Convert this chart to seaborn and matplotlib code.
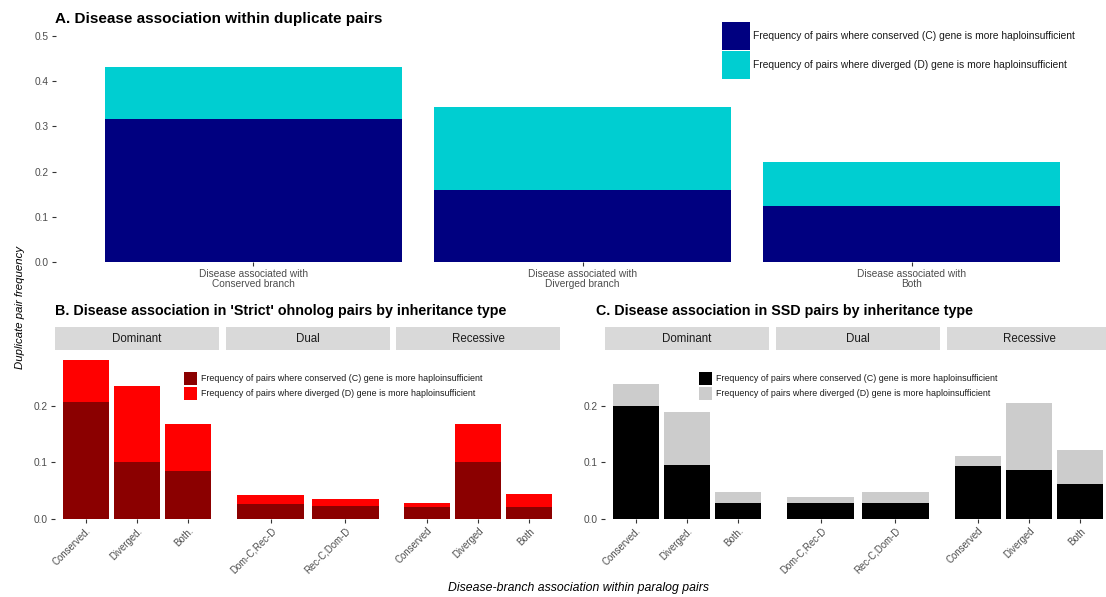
import matplotlib
matplotlib.use("Agg")
import matplotlib.pyplot as plt
from matplotlib.patches import Rectangle
import seaborn as sns
import pandas as pd

sns.set_theme(style="white")
plt.rcParams['font.family'] = ['Liberation Sans', 'DejaVu Sans']

# ---------------- data ----------------
A_categories = ["Disease associated with\nConserved branch",
                "Disease associated with\nDiverged branch",
                "Disease associated with\nBoth"]
A_conserved_HI = [0.316, 0.159, 0.124]
A_diverged_HI = [0.115, 0.184, 0.097]

facets = ["Dominant", "Dual", "Recessive"]
facet_categories = {
    "Dominant": ["Conserved.", "Diverged.", "Both."],
    "Dual": ["Dom-C,Rec-D", "Rec-C,Dom-D"],
    "Recessive": ["Conserved", "Diverged", "Both"],
}
B_conserved_HI = {"Dominant": [0.206, 0.100, 0.085],
                  "Dual": [0.027, 0.023],
                  "Recessive": [0.021, 0.101, 0.021]}
B_diverged_HI = {"Dominant": [0.075, 0.134, 0.082],
                 "Dual": [0.016, 0.013],
                 "Recessive": [0.007, 0.066, 0.023]}
C_conserved_HI = {"Dominant": [0.200, 0.096, 0.029],
                  "Dual": [0.029, 0.029],
                  "Recessive": [0.093, 0.087, 0.062]}
C_diverged_HI = {"Dominant": [0.038, 0.093, 0.019],
                 "Dual": [0.010, 0.019],
                 "Recessive": [0.019, 0.118, 0.059]}

legend_labels = ["Frequency of pairs where conserved (C) gene is more haploinsufficient",
                 "Frequency of pairs where diverged (D) gene is more haploinsufficient"]

# ---------------- layout helpers ----------------
W, H = 1106, 597
fig = plt.figure(figsize=(W / 100, H / 100), dpi=100)
fig.patch.set_facecolor("white")

def add_ax(left, top, right, bottom):
    return fig.add_axes([left / W, 1 - bottom / H, (right - left) / W, (bottom - top) / H])

TICK_COL = "#4D4D4D"

def style_ax(ax, show_y=True):
    for s in ax.spines.values():
        s.set_visible(False)
    ax.set_facecolor("white")
    ax.tick_params(axis="both", which="both", length=3, width=0.8, color="#333333",
                   labelcolor=TICK_COL, labelsize=7.3, pad=2,
                   bottom=True, left=show_y, labelleft=show_y)
    ax.set_xlabel("")
    ax.set_ylabel("")
    ax.grid(False)

def stacked(ax, cats, cons, div, c_dark, c_light):
    total = [a + b for a, b in zip(cons, div)]
    df = pd.DataFrame({"cat": cats, "total": total, "cons": cons})
    sns.barplot(data=df, x="cat", y="total", color=c_light, width=0.9,
                saturation=1, edgecolor="none", linewidth=0, ax=ax, order=cats)
    sns.barplot(data=df, x="cat", y="cons", color=c_dark, width=0.9,
                saturation=1, edgecolor="none", linewidth=0, ax=ax, order=cats)
    ax.set_xlim(-0.6, len(cats) - 0.4)

def draw_legend(x, y, key_w, key_h, pitch, colors, fontsize, text_gap):
    for i, (c, lab) in enumerate(zip(colors, legend_labels)):
        top = y + i * pitch
        fig.patches.append(Rectangle((x / W, 1 - (top + key_h) / H), key_w / W, key_h / H,
                                     transform=fig.transFigure, facecolor=c,
                                     edgecolor="none"))
        fig.text((x + key_w + text_gap) / W, 1 - (top + key_h / 2) / H, lab,
                 fontsize=fontsize, color="#1A1A1A", ha="left", va="center")

# ---------------- Panel A ----------------
axA = add_ax(56, 36, 1109, 262)
stacked(axA, A_categories, A_conserved_HI, A_diverged_HI, "#000080", "#00CED1")
axA.set_ylim(0, 0.5)
axA.set_yticks([0, 0.1, 0.2, 0.3, 0.4, 0.5])
axA.set_yticklabels(["0.0", "0.1", "0.2", "0.3", "0.4", "0.5"])
style_ax(axA)
for lab in axA.get_xticklabels():
    lab.set_fontsize(7.3)
    lab.set_linespacing(1.0)
fig.text(55 / W, 1 - 19 / H, "A. Disease association within duplicate pairs",
         fontsize=11, fontweight="bold", va="center", ha="left", color="black")
draw_legend(722, 22, 28, 28, 29, ["#000080", "#00CED1"], 7.4, 3)

# ---------------- Panels B and C ----------------
def facet_panel(xranges, cons_d, div_d, c_dark, c_light, title, title_x, leg_xy):
    for i, (f, (l, r)) in enumerate(zip(facets, xranges)):
        ax = add_ax(l, 352, r, 519)
        cats = facet_categories[f]
        stacked(ax, cats, cons_d[f], div_d[f], c_dark, c_light)
        ax.set_ylim(0, 0.2947)
        ax.set_yticks([0, 0.1, 0.2])
        ax.set_yticklabels(["0.0", "0.1", "0.2"])
        style_ax(ax, show_y=(i == 0))
        for lab in ax.get_xticklabels():
            lab.set_rotation(45)
            lab.set_ha("right")
            lab.set_va("top")
            lab.set_rotation_mode("anchor")
            lab.set_fontsize(6.9)
        # facet strip
        fig.patches.append(Rectangle((l / W, 1 - 350 / H), (r - l) / W, 23 / H,
                                     transform=fig.transFigure, facecolor="#D9D9D9",
                                     edgecolor="none", zorder=0))
        fig.text((l + r) / 2 / W, 1 - 338.5 / H, f, fontsize=8.3, color="#1A1A1A",
                 ha="center", va="center")
    fig.text(title_x / W, 1 - 311 / H, title, fontsize=10.3, fontweight="bold",
             va="center", ha="left", color="black")
    draw_legend(leg_xy[0], leg_xy[1], 13, 13, 15, [c_dark, c_light], 6.4, 4)

facet_panel([(55, 219), (226, 390), (396, 560)], B_conserved_HI, B_diverged_HI,
            "#8B0000", "#FF0000",
            "B. Disease association in 'Strict' ohnolog pairs by inheritance type",
            55, (184, 372))
facet_panel([(605, 769), (776, 940), (947, 1111)], C_conserved_HI, C_diverged_HI,
            "#000000", "#CCCCCC",
            "C. Disease association in SSD pairs by inheritance type",
            596, (699, 372))

# ---------------- shared axis titles ----------------
fig.text(20 / W, 1 - 307 / H, "Duplicate pair frequency", rotation=90, style="italic",
         fontsize=8.2, ha="center", va="center", color="black")
fig.text(578 / W, 1 - 588 / H, "Disease-branch association within paralog pairs",
         style="italic", fontsize=8.8, ha="center", va="center", color="black")

fig.savefig("out.png", dpi=100, facecolor="white")
